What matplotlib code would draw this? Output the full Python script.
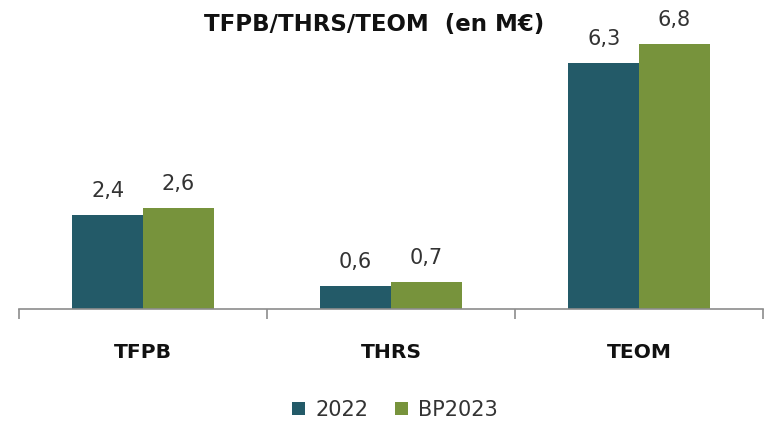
import matplotlib
matplotlib.use("Agg")
import matplotlib.pyplot as plt
import numpy as np

categories = ["TFPB", "THRS", "TEOM"]
series_names = ["2022", "BP2023"]
values_2022 = [2.4, 0.6, 6.3]
values_bp2023 = [2.6, 0.7, 6.8]
labels_2022 = ["2,4", "0,6", "6,3"]
labels_bp2023 = ["2,6", "0,7", "6,8"]
colors = ["#235A68", "#77933C"]

plt.rcParams['font.family'] = ['DejaVu Sans']

fig = plt.figure(figsize=(7.65, 4.22), dpi=100)
ax = fig.add_axes([19/765, 1-309/422, 744/765, (309-36)/422])

x = np.arange(len(categories))
w = 0.285
b1 = ax.bar(x - w/2, values_2022, w, color=colors[0], label=series_names[0])
b2 = ax.bar(x + w/2, values_bp2023, w, color=colors[1], label=series_names[1])

for rects, labs in ((b1, labels_2022), (b2, labels_bp2023)):
    for r, lab in zip(rects, labs):
        ax.annotate(lab, (r.get_x() + r.get_width()/2, r.get_height()),
                    xytext=(0, 13), textcoords="offset points",
                    ha="center", va="baseline", fontsize=15, color="#333333")

ax.set_xlim(-0.5, 2.5)
ax.set_ylim(0, 7)
for s in ["top", "right", "left"]:
    ax.spines[s].set_visible(False)
ax.spines["bottom"].set_color("#8c8c8c")
ax.spines["bottom"].set_linewidth(1.2)
ax.set_yticks([])
ax.set_xticks([-0.5, 0.5, 1.5, 2.5])
ax.set_xticklabels([])
ax.tick_params(axis="x", length=7, color="#8c8c8c", width=1.2)
for i, c in enumerate(categories):
    ax.annotate(c, (i, 0), xytext=(0, -35.3), textcoords="offset points",
                ha="center", va="baseline", fontsize=14.6, fontweight="bold", color="#111111")

fig.text(374/765, 1-31/422, "TFPB/THRS/TEOM  (en M€)", ha="center", va="baseline",
         fontsize=16.5, fontweight="bold", color="#111111")

leg = fig.legend(handles=[b1, b2], labels=series_names, loc="center", bbox_to_anchor=(395/765, 1-410/422),
                 ncol=2, frameon=False, fontsize=15, handlelength=0.6, handleheight=0.6,
                 handletextpad=0.5, columnspacing=1.3)
for t in leg.get_texts():
    t.set_color("#333333")

fig.savefig("out.png", dpi=100)
